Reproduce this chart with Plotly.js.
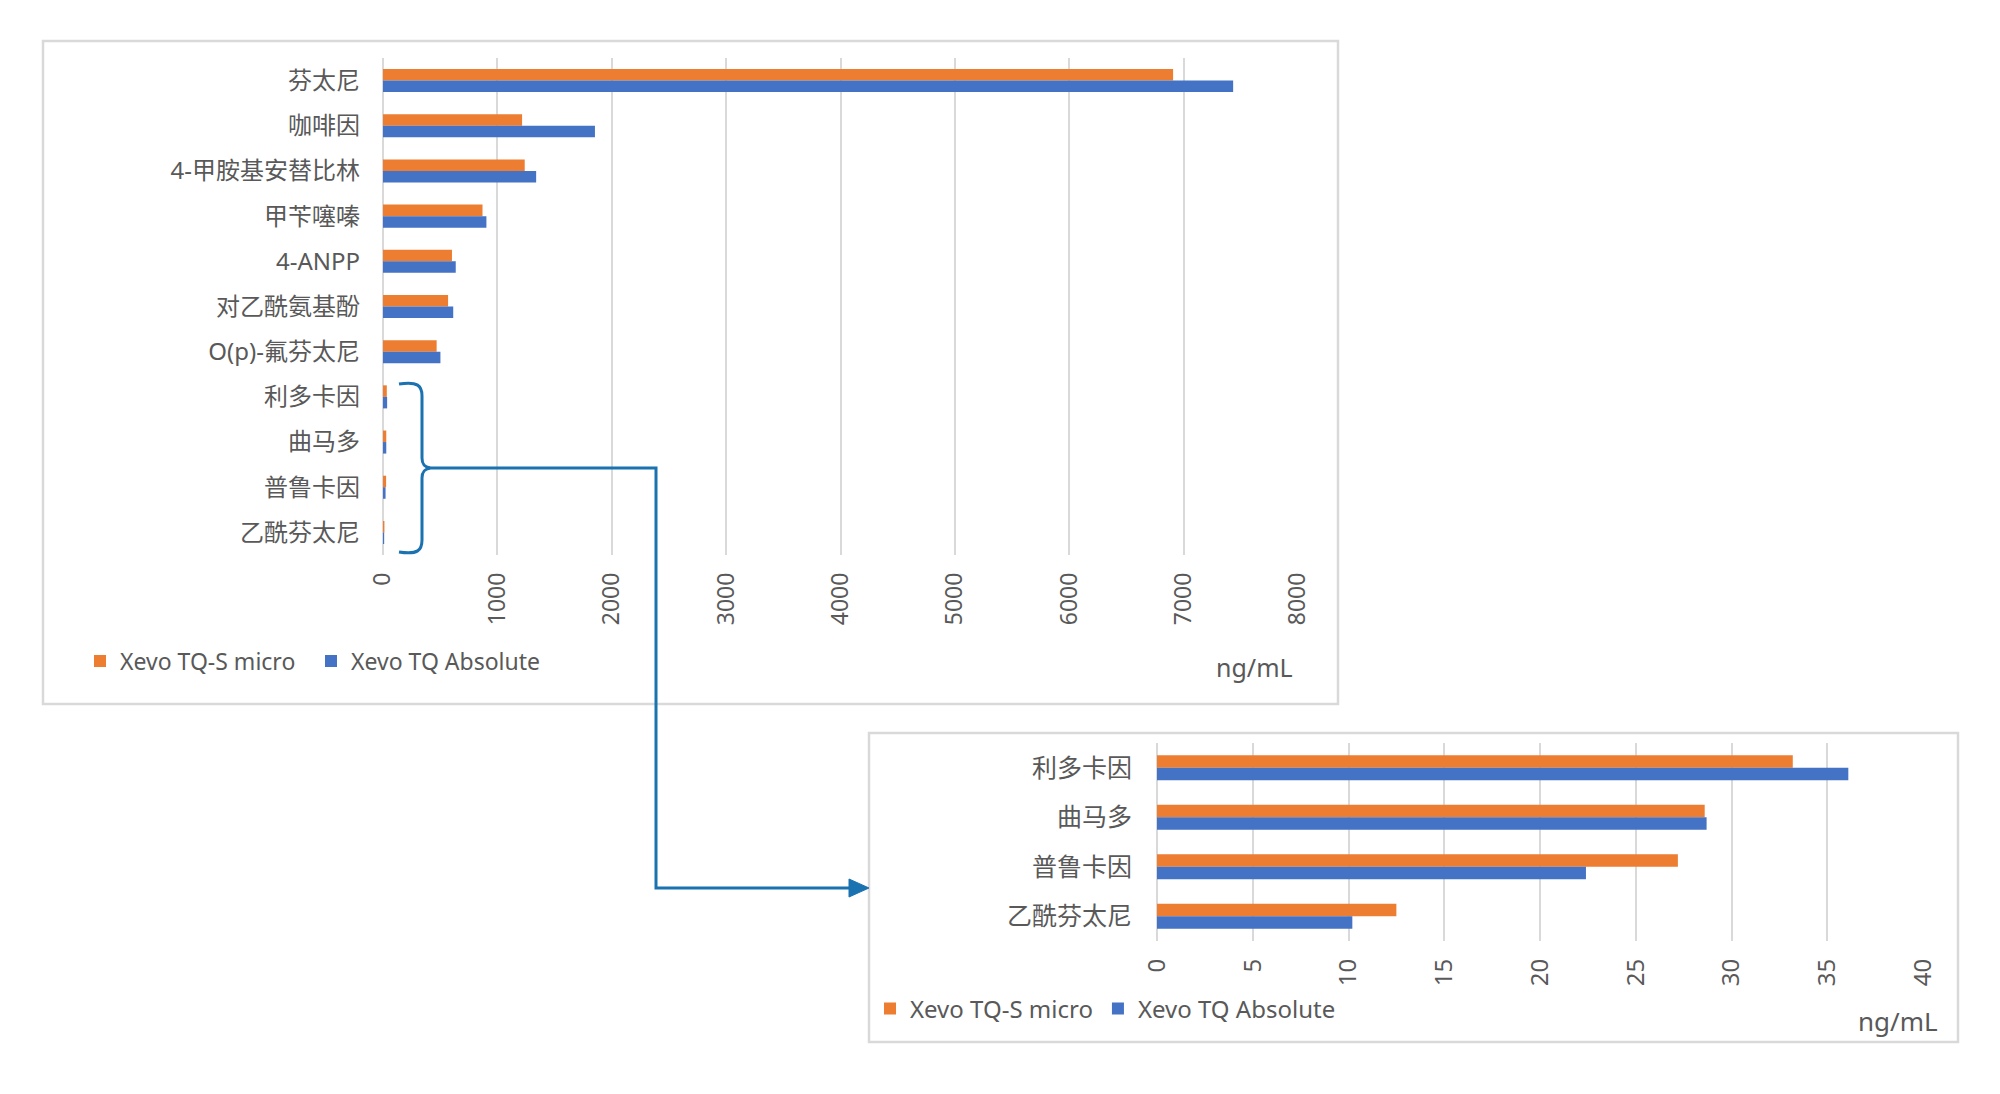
<!DOCTYPE html>
<html>
<head>
<meta charset="utf-8">
<script src="https://cdn.plot.ly/plotly-3.0.1.min.js"></script>
<style>
  html, body { margin: 0; padding: 0; background: #ffffff; }
  #chart { width: 2000px; height: 1094px; }
</style>
</head>
<body>
<div id="chart"></div>
<script>
// ---- data (ng/mL) ----
const categories = ['芬太尼', '咖啡因', '4-甲胺基安替比林', '甲苄噻嗪', '4-ANPP', '对乙酰氨基酚', 'O(p)-氟芬太尼', '利多卡因', '曲马多', '普鲁卡因', '乙酰芬太尼'];
const microValues = [6908, 1216, 1239, 870, 603, 569, 469, 33.2, 28.6, 27.2, 12.5];
const absoluteValues = [7433, 1853, 1339, 904, 636, 614, 502, 36.1, 28.7, 22.4, 10.2];
const zoomCategories = ['利多卡因', '曲马多', '普鲁卡因', '乙酰芬太尼'];
const zoomMicro = [33.2, 28.6, 27.2, 12.5];
const zoomAbsolute = [36.1, 28.7, 22.4, 10.2];
const seriesNames = ['Xevo TQ-S micro', 'Xevo TQ Absolute'];
const unitLabel = 'ng/mL';

// ---- style ----
const W = 2000, H = 1094;
const ORANGE = '#ED7D31', BLUE = '#4472C4', TEXT = '#595959', GRID = '#d9d9d9', ACCENT = '#1b72b1';
const FONT = 'Noto Sans, "Noto Sans CJK SC", sans-serif';

const px = x => x / W;
const py = y => 1 - y / H;
const P = (x, y) => px(x).toFixed(5) + ',' + py(y).toFixed(5);

const traces = [
  { type: 'bar', orientation: 'h', name: seriesNames[0], y: categories, x: microValues,
    marker: { color: ORANGE }, xaxis: 'x', yaxis: 'y', legend: 'legend', hoverinfo: 'x+y' },
  { type: 'bar', orientation: 'h', name: seriesNames[1], y: categories, x: absoluteValues,
    marker: { color: BLUE }, xaxis: 'x', yaxis: 'y', legend: 'legend', hoverinfo: 'x+y' },
  { type: 'bar', orientation: 'h', name: seriesNames[0], y: zoomCategories, x: zoomMicro,
    marker: { color: ORANGE }, xaxis: 'x2', yaxis: 'y2', legend: 'legend2', hoverinfo: 'x+y' },
  { type: 'bar', orientation: 'h', name: seriesNames[1], y: zoomCategories, x: zoomAbsolute,
    marker: { color: BLUE }, xaxis: 'x2', yaxis: 'y2', legend: 'legend2', hoverinfo: 'x+y' }
];

const brace = 'M' + P(399, 384) +
  ' C' + P(418, 381) + ' ' + P(422, 386) + ' ' + P(422, 396) +
  ' L' + P(422, 458) +
  ' C' + P(422, 465) + ' ' + P(425, 467) + ' ' + P(430, 468) +
  ' C' + P(425, 469) + ' ' + P(422, 471) + ' ' + P(422, 478) +
  ' L' + P(422, 540) +
  ' C' + P(422, 550) + ' ' + P(418, 555) + ' ' + P(399, 552);

const connector = 'M' + P(428, 468) + ' L' + P(656, 468) + ' L' + P(656, 888) + ' L' + P(852, 888);
const arrowHead = 'M' + P(849, 879) + ' L' + P(869, 888) + ' L' + P(849, 897) + ' Z';

const layout = {
  width: W, height: H,
  margin: { l: 0, r: 0, t: 0, b: 0, pad: 0 },
  paper_bgcolor: '#ffffff', plot_bgcolor: 'rgba(0,0,0,0)',
  font: { family: FONT, color: TEXT, size: 24 },
  barmode: 'group', bargap: 0.49, bargroupgap: 0,
  showlegend: true,
  xaxis: {
    domain: [px(383), px(1298)], anchor: 'y', range: [0, 8000], dtick: 1000, tick0: 0,
    showgrid: true, gridcolor: GRID, gridwidth: 2,
    zeroline: true, zerolinecolor: GRID, zerolinewidth: 2, showline: false,
    tickangle: -90, ticks: '', ticklabelstandoff: 12, tickfont: { size: 23, color: TEXT }
  },
  yaxis: {
    domain: [py(555), py(58)], anchor: 'x', type: 'category', autorange: 'reversed',
    showgrid: false, zeroline: false, showline: false, ticks: '',
    ticklabelstandoff: 22, tickfont: { size: 24, color: TEXT }
  },
  xaxis2: {
    domain: [px(1157), px(1923)], anchor: 'y2', range: [0, 40], dtick: 5, tick0: 0,
    showgrid: true, gridcolor: GRID, gridwidth: 2,
    zeroline: true, zerolinecolor: GRID, zerolinewidth: 2, showline: false,
    tickangle: -90, ticks: '', ticklabelstandoff: 12, tickfont: { size: 24, color: TEXT }
  },
  yaxis2: {
    domain: [py(941), py(743)], anchor: 'x2', type: 'category', autorange: 'reversed',
    showgrid: false, zeroline: false, showline: false, ticks: '',
    ticklabelstandoff: 24, tickfont: { size: 25, color: TEXT }
  },
  legend: {
    orientation: 'h', x: px(80), xanchor: 'left', y: py(661), yanchor: 'middle',
    font: { size: 23, color: TEXT }, bgcolor: 'rgba(0,0,0,0)', traceorder: 'normal',
    entrywidth: 186, entrywidthmode: 'pixels'
  },
  legend2: {
    orientation: 'h', x: px(870), xanchor: 'left', y: py(1009), yanchor: 'middle',
    font: { size: 24, color: TEXT }, bgcolor: 'rgba(0,0,0,0)', traceorder: 'normal'
  },
  annotations: [
    { text: unitLabel, xref: 'paper', yref: 'paper', x: px(1295), y: py(667),
      xanchor: 'right', yanchor: 'middle', showarrow: false, font: { size: 25, color: TEXT } },
    { text: unitLabel, xref: 'paper', yref: 'paper', x: px(1940), y: py(1021),
      xanchor: 'right', yanchor: 'middle', showarrow: false, font: { size: 26, color: TEXT } }
  ],
  shapes: [
    { type: 'rect', xref: 'paper', yref: 'paper', x0: px(43), y0: py(41), x1: px(1338), y1: py(704),
      line: { color: GRID, width: 2.5 }, fillcolor: 'rgba(0,0,0,0)', layer: 'below' },
    { type: 'rect', xref: 'paper', yref: 'paper', x0: px(869), y0: py(733), x1: px(1958), y1: py(1042),
      line: { color: GRID, width: 2.5 }, fillcolor: 'rgba(0,0,0,0)', layer: 'below' },
    { type: 'line', xref: 'x', yref: 'y domain', x0: 0, x1: 0, y0: 0, y1: 1,
      line: { color: GRID, width: 2 }, layer: 'below' },
    { type: 'line', xref: 'x2', yref: 'y2 domain', x0: 0, x1: 0, y0: 0, y1: 1,
      line: { color: GRID, width: 2 }, layer: 'below' },
    { type: 'path', xref: 'paper', yref: 'paper', path: brace,
      line: { color: ACCENT, width: 3 }, fillcolor: 'rgba(0,0,0,0)' },
    { type: 'path', xref: 'paper', yref: 'paper', path: connector,
      line: { color: ACCENT, width: 3 }, fillcolor: 'rgba(0,0,0,0)' },
    { type: 'path', xref: 'paper', yref: 'paper', path: arrowHead,
      line: { color: ACCENT, width: 1 }, fillcolor: ACCENT }
  ]
};

Plotly.newPlot('chart', traces, layout, { displayModeBar: false, staticPlot: true });
</script>
</body>
</html>
